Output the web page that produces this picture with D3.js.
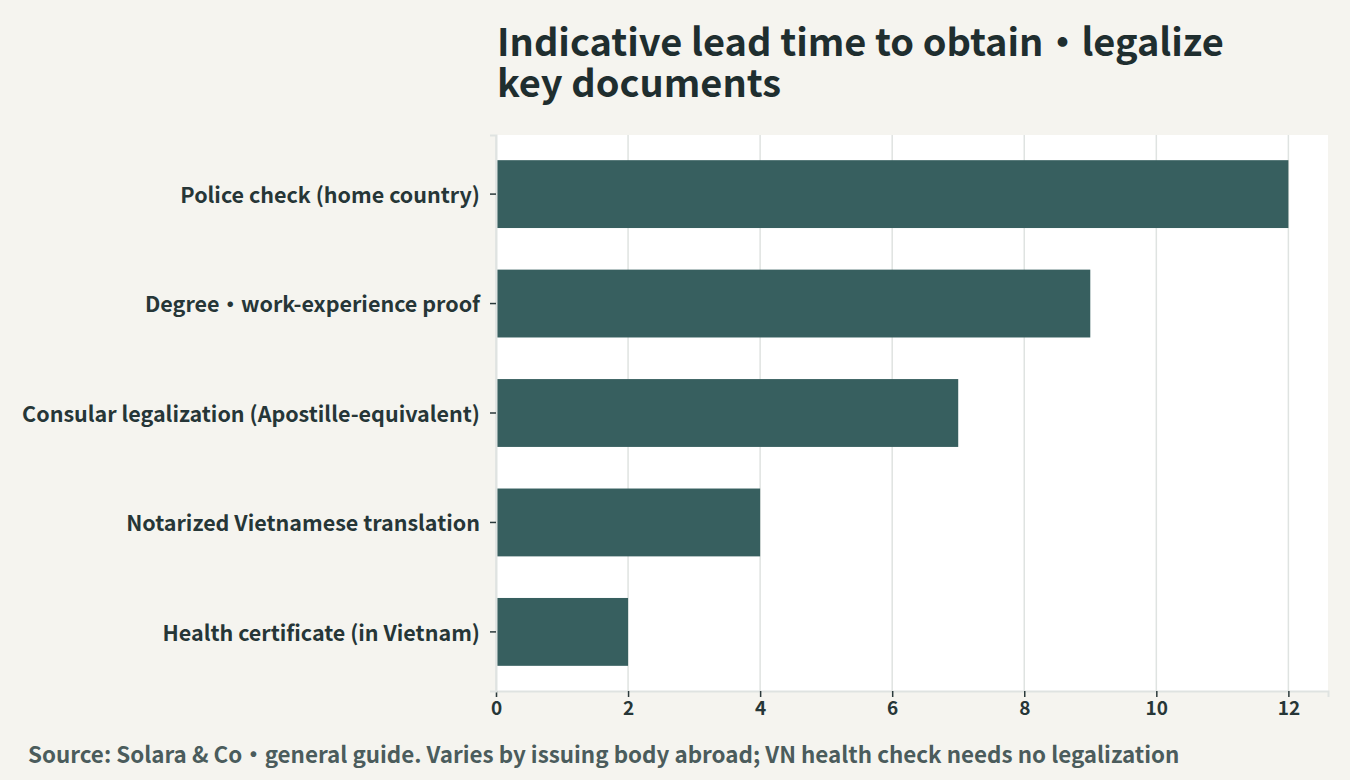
<!DOCTYPE html>
<html>
<head>
<meta charset="utf-8">
<script src="https://cdn.jsdelivr.net/npm/d3@7"></script>
<style>
  body { margin: 0; background: #f5f4ef; }
  svg { display: block; }
</style>
</head>
<body>
<script>
var categories = [
	"Police check (home country)",
	"Degree・work-experience proof",
	"Consular legalization (Apostille-equivalent)",
	"Notarized Vietnamese translation",
	"Health certificate (in Vietnam)"
];
var weeks = [12, 9, 7, 4, 2];
var xTicks = [0, 2, 4, 6, 8, 10, 12];
var titleLines = ["Indicative lead time to obtain・legalize", "key documents"];
var sourceText = "Source: Solara & Co・general guide. Varies by issuing body abroad; VN health check needs no legalization";

var FONT = '"Noto Sans CJK JP", "Noto Sans", sans-serif';
var width = 1350;
var height = 780;
var margin = { top: 135, right: 22, bottom: 89, left: 496 };

var svg = d3
	.select("body")
	.append("svg")
	.attr("width", width)
	.attr("height", height)
	.attr("font-family", FONT);

svg.append("rect")
	.attr("width", width)
	.attr("height", height)
	.attr("fill", "#f5f4ef");

var x = d3.scaleLinear()
	.domain([0, 12.6])
	.range([margin.left, width - margin.right]);

var y = d3.scaleBand()
	.domain(categories)
	.range([margin.top, height - margin.bottom])
	.paddingInner(0.38)
	.paddingOuter(0.23);

// plot background
svg.append("rect")
	.attr("x", margin.left)
	.attr("y", margin.top)
	.attr("width", width - margin.right - margin.left)
	.attr("height", height - margin.bottom - margin.top)
	.attr("fill", "#ffffff");

// grid
svg.append("g")
	.selectAll("line")
	.data(xTicks)
	.enter()
	.append("line")
	.attr("x1", function (d) { return x(d); })
	.attr("x2", function (d) { return x(d); })
	.attr("y1", margin.top)
	.attr("y2", height - margin.bottom)
	.attr("stroke", "#dfe3e1")
	.attr("stroke-width", 1.5);

// bars
svg.append("g")
	.selectAll("rect")
	.data(weeks)
	.enter()
	.append("rect")
	.attr("x", x(0))
	.attr("y", function (d, i) { return y(categories[i]); })
	.attr("width", function (d) { return x(d) - x(0); })
	.attr("height", y.bandwidth())
	.attr("fill", "#375f5f");

// x axis
var xAxis = svg.append("g")
	.attr("transform", "translate(0," + (height - margin.bottom) + ")")
	.call(d3.axisBottom(x).tickValues(xTicks).tickSize(6).tickPadding(5))
	.attr("font-family", FONT);
xAxis.select(".domain").attr("stroke", "#dfe3e1").attr("stroke-width", 2);
xAxis.selectAll(".tick line").attr("stroke", "#2b3a3b").attr("stroke-width", 1.5);
xAxis.selectAll("text")
	.attr("fill", "#263637")
	.style("font-size", "19px")
	.style("font-weight", "700");

// y axis
var yAxis = svg.append("g")
	.attr("transform", "translate(" + margin.left + ",0)")
	.call(d3.axisLeft(y).tickSize(6).tickPadding(10))
	.attr("font-family", FONT);
yAxis.select(".domain").attr("stroke", "#dfe3e1").attr("stroke-width", 2);
yAxis.selectAll(".tick line").attr("stroke", "#2b3a3b").attr("stroke-width", 1.5);
yAxis.selectAll("text")
	.attr("fill", "#263637")
	.attr("dy", "0.4em")
	.style("font-size", "21.5px")
	.style("font-weight", "700");

// title
svg.append("g")
	.selectAll("text")
	.data(titleLines)
	.enter()
	.append("text")
	.attr("x", 497)
	.attr("y", function (d, i) { return 56 + i * 41; })
	.attr("fill", "#1f2e2f")
	.style("font-size", "38px")
	.style("font-weight", "700")
	.text(function (d) { return d; });

// source
svg.append("text")
	.attr("x", 28)
	.attr("y", 763)
	.attr("fill", "#4b5c5c")
	.style("font-size", "22.4px")
	.style("font-weight", "700")
	.text(sourceText);
</script>
</body>
</html>
